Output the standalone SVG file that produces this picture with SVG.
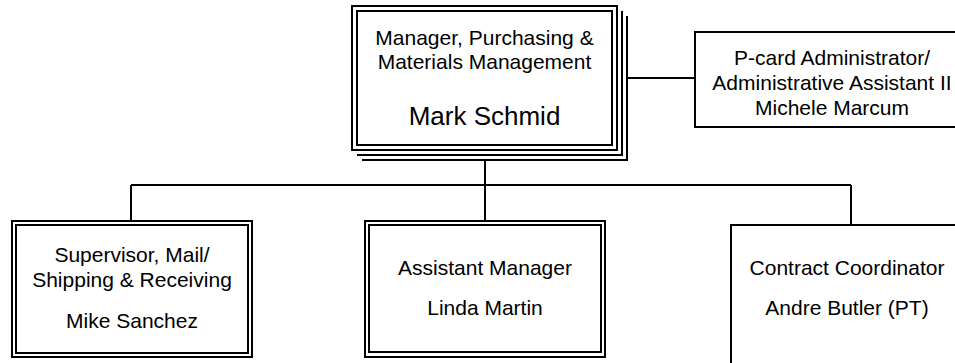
<svg xmlns="http://www.w3.org/2000/svg" width="955" height="363" viewBox="0 0 955 363">
<style>
.b{fill:#fff;stroke:#000;stroke-width:2}
.l{fill:none;stroke:#000;stroke-width:2}
.t{font-family:"Liberation Sans",Arial,sans-serif;font-size:21px;fill:#000;text-anchor:middle}
.n{font-size:26px}
</style>
<rect width="955" height="363" fill="#fff"/>
<g id="connectors" class="l">
<line x1="627" y1="78" x2="695" y2="78"/>
<line x1="485" y1="160" x2="485" y2="185"/>
<line x1="131" y1="185" x2="851" y2="185"/>
<line x1="131" y1="185" x2="131" y2="221"/>
<line x1="485" y1="185" x2="485" y2="221"/>
<line x1="851" y1="185" x2="851" y2="225"/>
</g>
<g id="manager">
<polyline class="l" points="362,160 627,160 627,16"/>
<polyline class="l" points="357,155 622,155 622,11"/>
<rect class="b" x="352" y="6" width="265" height="144"/>
<rect class="b" x="357" y="11" width="255" height="134"/>
<text class="t" x="484.5" y="45">Manager, Purchasing &amp;</text>
<text class="t" x="484.5" y="69">Materials Management</text>
<text class="t n" x="484.5" y="125">Mark Schmid</text>
</g>
<g id="pcard">
<rect class="b" x="695" y="32" width="274" height="95"/>
<text class="t" x="832" y="65">P-card Administrator/</text>
<text class="t" x="832" y="90">Administrative Assistant II</text>
<text class="t" x="832" y="115">Michele Marcum</text>
</g>
<g id="supervisor">
<rect class="b" x="12" y="221" width="240" height="136"/>
<rect class="b" x="16" y="225" width="232" height="128"/>
<text class="t" x="132" y="262">Supervisor, Mail/</text>
<text class="t" x="132" y="287">Shipping &amp; Receiving</text>
<text class="t" x="132" y="328">Mike Sanchez</text>
</g>
<g id="assistant">
<rect class="b" x="365" y="221" width="240" height="136"/>
<rect class="b" x="369" y="225" width="232" height="127"/>
<text class="t" x="485" y="275">Assistant Manager</text>
<text class="t" x="485" y="315">Linda Martin</text>
</g>
<g id="contract">
<rect class="b" x="731" y="225" width="240" height="150"/>
<text class="t" x="847" y="275">Contract Coordinator</text>
<text class="t" x="847" y="315">Andre Butler (PT)</text>
</g>
</svg>
